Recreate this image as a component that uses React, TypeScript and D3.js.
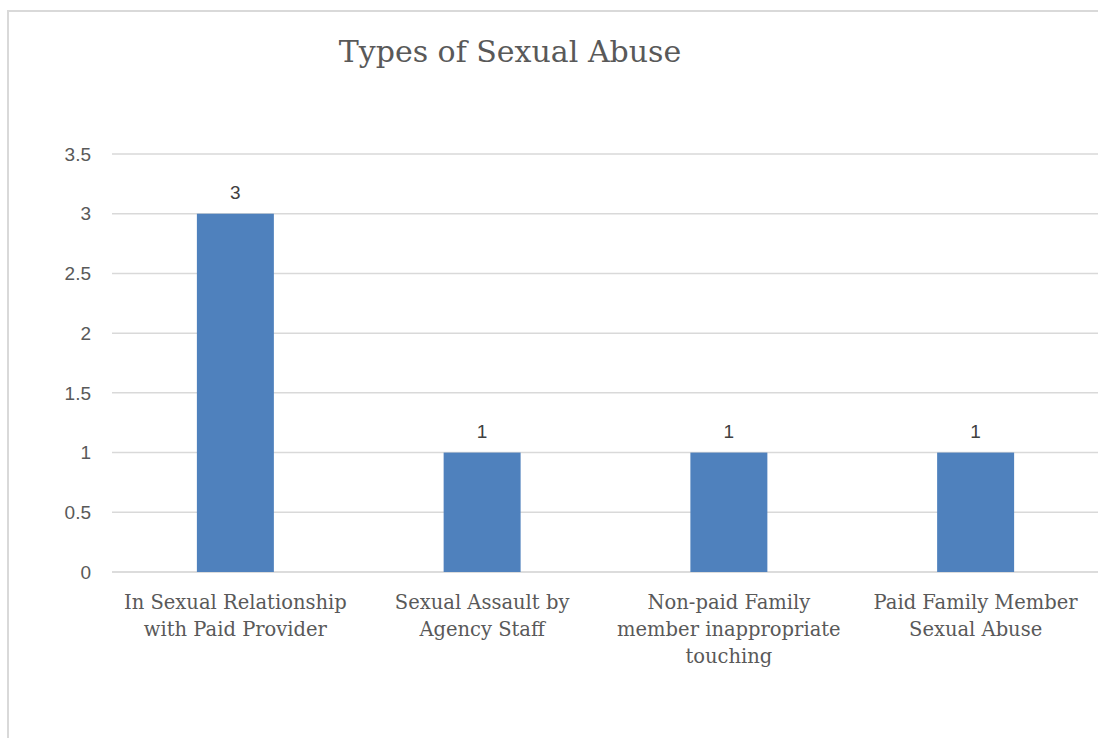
import React from "react";
import * as d3 from "d3";

const categories: string[][] = [
  ["In Sexual Relationship", "with Paid Provider"],
  ["Sexual Assault by", "Agency Staff"],
  ["Non-paid Family", "member inappropriate", "touching"],
  ["Paid Family Member", "Sexual Abuse"],
];
const values: number[] = [3, 1, 1, 1];
const yTicks: number[] = [0, 0.5, 1, 1.5, 2, 2.5, 3, 3.5];
const title = "Types of Sexual Abuse";

const W = 1098;
const H = 738;
const plotLeft = 112;
const plotRight = 1099;
const yTop = 154;
const yBottom = 572;

const serif = "'DejaVu Serif', 'Liberation Serif', serif";
const sans = "'Liberation Sans', 'Open Sans', sans-serif";

export default function App() {
  const x = d3
    .scaleBand<number>()
    .domain(values.map((_, i) => i))
    .range([plotLeft, plotRight])
    .paddingInner(0.688)
    .paddingOuter(0.344);
  const y = d3.scaleLinear().domain([0, 3.5]).range([yBottom, yTop]);
  const step = x.step();

  return (
    <svg
      width={W}
      height={H}
      style={{ position: "absolute", left: 0, top: 0, background: "#fff" }}
    >
      <rect x={8} y={11} width={W + 20} height={H + 20} fill="#fff" stroke="#d9d9d9" strokeWidth={2} />
      <text x={510} y={62} textAnchor="middle" fontFamily={serif} fontSize={30} fill="#595959">
        {title}
      </text>
      {yTicks.map((t) => (
        <g key={t}>
          <line x1={plotLeft} x2={plotRight} y1={y(t)} y2={y(t)} stroke={t === 0 ? "#d0d0d0" : "#d9d9d9"} strokeWidth={1.5} />
          <text x={91} y={y(t)} dy="0.35em" textAnchor="end" fontFamily={sans} fontSize={19} fill="#595959">
            {t}
          </text>
        </g>
      ))}
      {values.map((v, i) => (
        <g key={i}>
          <rect x={x(i)} y={y(v)} width={x.bandwidth()} height={y(0) - y(v)} fill="#4f81bd" />
          <text x={(x(i) as number) + x.bandwidth() / 2} y={y(v) - 15} textAnchor="middle" fontFamily={sans} fontSize={19} fill="#404040">
            {v}
          </text>
          <text textAnchor="middle" fontFamily={serif} fontSize={19.5} fill="#595959">
            {categories[i].map((line, j) => (
              <tspan key={j} x={plotLeft + step * (i + 0.5)} y={609 + j * 27}>
                {line}
              </tspan>
            ))}
          </text>
        </g>
      ))}
    </svg>
  );
}
